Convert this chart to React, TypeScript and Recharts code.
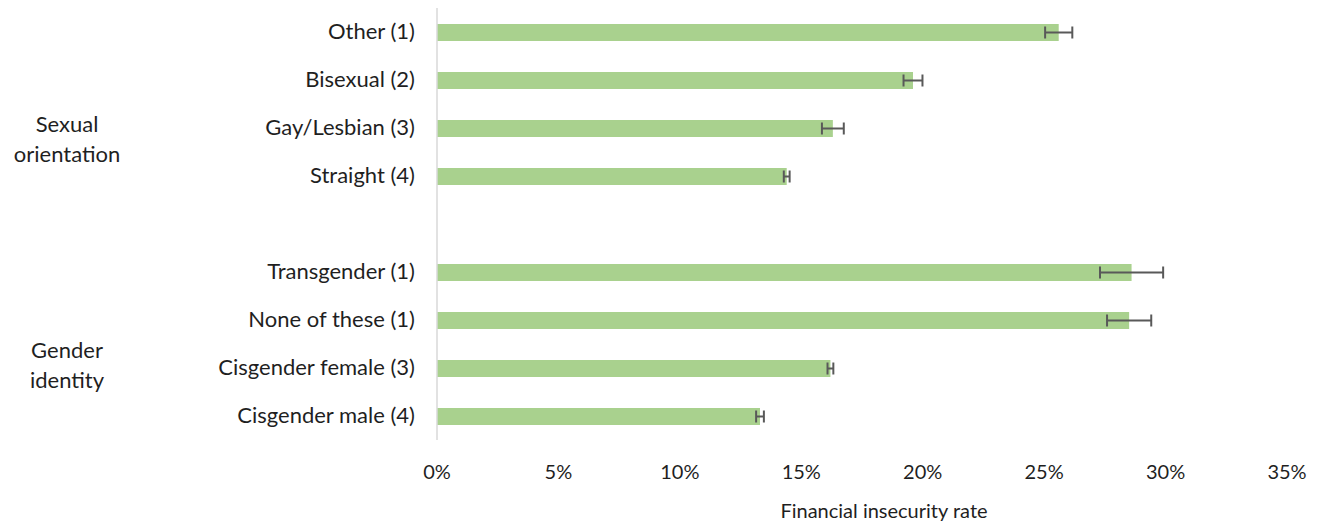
import React from 'react'
import { Bar, BarChart, ErrorBar, XAxis, YAxis } from 'recharts'

const categories = [
  'Other (1)',
  'Bisexual (2)',
  'Gay/Lesbian (3)',
  'Straight (4)',
  '',
  'Transgender (1)',
  'None of these (1)',
  'Cisgender female (3)',
  'Cisgender male (4)',
]
const rates = [25.6, 19.6, 16.3, 14.4, null, 28.6, 28.5, 16.2, 13.3]
const errors = [0.56, 0.39, 0.45, 0.12, 0, 1.3, 0.91, 0.12, 0.16]
const xTicks = [0, 5, 10, 15, 20, 25, 30, 35]
const groups = [
  { lines: ['Sexual', 'orientation'], y: 132 },
  { lines: ['Gender', 'identity'], y: 358 },
]

const FONT = 'Lato, "Open Sans", sans-serif'
const TEXT = '#1f1f1f'

const data = categories.map((name, i) => ({ name, rate: rates[i], err: errors[i] }))

function CategoryTick({ y, payload }: any) {
  return (
    <text x={415} y={y + 7} textAnchor="end" fontSize={22} fontFamily={FONT} fill={TEXT}>
      {payload.value}
    </text>
  )
}

function PercentTick({ x, payload }: any) {
  return (
    <text x={x} y={479} textAnchor="middle" fontSize={20} fontFamily={FONT} fill={TEXT}>
      {`${payload.value}%`}
    </text>
  )
}

export default function App() {
  return (
    <div style={{ position: 'absolute', left: 0, top: 0, width: 1320, height: 526, background: '#fff' }}>
      <BarChart
        width={1320}
        height={526}
        data={data}
        layout="vertical"
        margin={{ top: 8, right: 33, bottom: 0, left: 0 }}
        barCategoryGap={0}
      >
        <XAxis
          type="number"
          domain={[0, 35]}
          ticks={xTicks}
          axisLine={false}
          tickLine={false}
          height={86}
          tick={<PercentTick />}
          interval={0}
        />
        <YAxis
          type="category"
          dataKey="name"
          width={437}
          axisLine={{ stroke: '#d9d9d9', strokeWidth: 1.5 }}
          tickLine={false}
          tick={<CategoryTick />}
          interval={0}
        />
        <Bar dataKey="rate" fill="#a9d18e" barSize={17} isAnimationActive={false}>
          <ErrorBar dataKey="err" direction="x" width={6} stroke="#595959" strokeWidth={2} />
        </Bar>
        <text x={884} y={518} textAnchor="middle" fontSize={20} fontFamily={FONT} fill={TEXT}>
          Financial insecurity rate
        </text>
        {groups.map((g) =>
          g.lines.map((line, j) => (
            <text
              key={line}
              x={67}
              y={g.y + j * 30}
              textAnchor="middle"
              fontSize={22}
              fontFamily={FONT}
              fill={TEXT}
            >
              {line}
            </text>
          )),
        )}
      </BarChart>
    </div>
  )
}
